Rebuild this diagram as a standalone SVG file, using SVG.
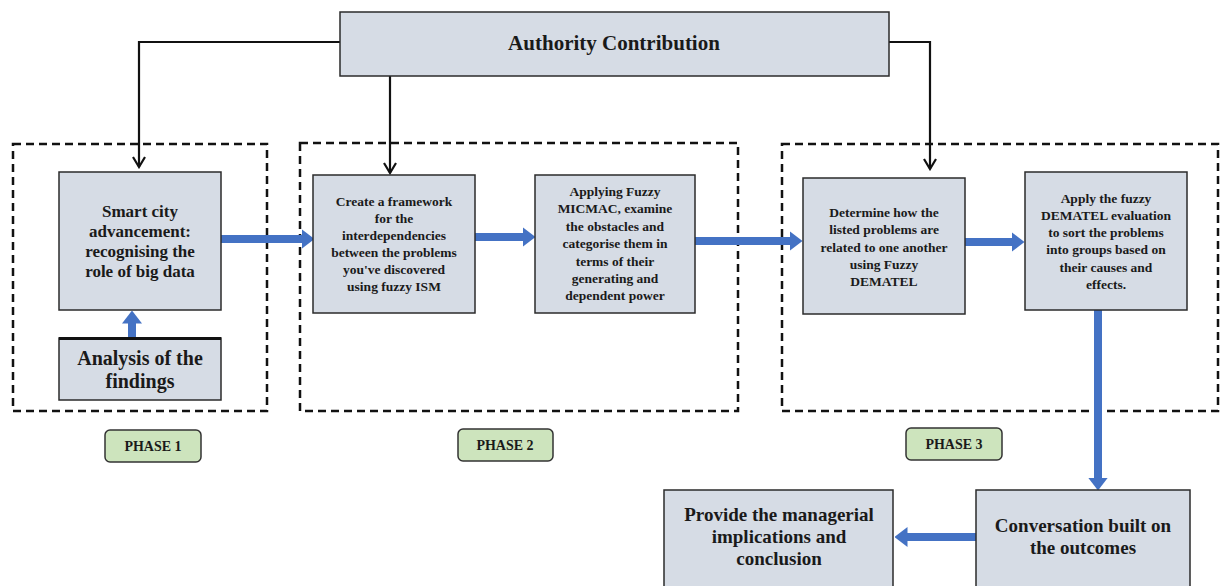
<svg xmlns="http://www.w3.org/2000/svg" width="1220" height="586" viewBox="0 0 1220 586">
<style>
.node{fill:#d6dce5;stroke:#2b2b2b;stroke-width:1.5}
.phase{fill:none;stroke:#111;stroke-width:2.5;stroke-dasharray:8 5}
.plabel{fill:#cde4bd;stroke:#333;stroke-width:1.5}
.t{font-family:"Liberation Serif","Times New Roman",serif;font-weight:bold;fill:#1a1a1a;text-anchor:middle}
.blk{fill:none;stroke:#111;stroke-width:2.2;marker-end:url(#open)}
.blue{fill:none;stroke:#4472c4;stroke-width:8;marker-end:url(#bhead)}
</style>
<defs>
<marker id="open" markerUnits="userSpaceOnUse" viewBox="0 0 14 14" markerWidth="14" markerHeight="14" refX="12" refY="7" orient="auto">
<path d="M2,1 L12,7 L2,13" fill="none" stroke="#111" stroke-width="2.2"/>
</marker>
<marker id="bhead" markerUnits="userSpaceOnUse" viewBox="0 0 13 20" markerWidth="13" markerHeight="20" refX="0.5" refY="10" orient="auto">
<path d="M0,0 L13,10 L0,20 z" fill="#4472c4"/>
</marker>
</defs>

<g id="phase-boxes">
<rect class="phase" x="13" y="144" width="254" height="267"/>
<rect class="phase" x="300" y="143" width="438" height="268"/>
<rect class="phase" x="782" y="144" width="436" height="267"/>
</g>

<g id="connectors">
<path class="blk" d="M340,42 H139 V167"/>
<path class="blk" d="M390,76 V173"/>
<path class="blk" d="M889,42 H930 V169"/>
<path class="blue" d="M221,239 H302"/>
<path class="blue" d="M475,237 H523"/>
<path class="blue" d="M695,241 H790"/>
<path class="blue" d="M965,242 H1012"/>
<path class="blue" d="M1098,310 V478"/>
<path class="blue" d="M976,537 H907"/>
<path class="blue" d="M132,338 V323"/>
</g>

<g id="authority">
<rect class="node" x="340" y="12" width="549" height="64"/>
<text class="t" x="614" y="50" font-size="21">Authority Contribution</text>
</g>

<g id="smart-city">
<rect class="node" x="59" y="172" width="162" height="138"/>
<text class="t" font-size="17"><tspan x="140" y="217">Smart city</tspan><tspan x="140" y="237">advancement:</tspan><tspan x="140" y="257">recognising the</tspan><tspan x="140" y="277">role of big data</tspan></text>
</g>

<g id="analysis">
<rect class="node" x="59" y="338" width="162" height="62"/>
<line x1="59" y1="338.5" x2="221" y2="338.5" stroke="#111" stroke-width="3"/>
<text class="t" font-size="20"><tspan x="140" y="365">Analysis of the</tspan><tspan x="140" y="388">findings</tspan></text>
</g>

<g id="create-framework">
<rect class="node" x="313" y="175" width="162" height="138"/>
<text class="t" font-size="13.5"><tspan x="394" y="206">Create a framework</tspan><tspan x="394" y="223">for the</tspan><tspan x="394" y="240">interdependencies</tspan><tspan x="394" y="257">between the problems</tspan><tspan x="394" y="274">you've discovered</tspan><tspan x="394" y="291">using fuzzy ISM</tspan></text>
</g>

<g id="micmac">
<rect class="node" x="535" y="175" width="160" height="138"/>
<text class="t" font-size="13.5"><tspan x="615" y="196">Applying Fuzzy</tspan><tspan x="615" y="213">MICMAC, examine</tspan><tspan x="615" y="231">the obstacles and</tspan><tspan x="615" y="248">categorise them in</tspan><tspan x="615" y="266">terms of their</tspan><tspan x="615" y="283">generating and</tspan><tspan x="615" y="300">dependent power</tspan></text>
</g>

<g id="determine">
<rect class="node" x="803" y="178" width="162" height="136"/>
<text class="t" font-size="13.5"><tspan x="884" y="217">Determine how the</tspan><tspan x="884" y="234">listed problems are</tspan><tspan x="884" y="252">related to one another</tspan><tspan x="884" y="269">using Fuzzy</tspan><tspan x="884" y="286">DEMATEL</tspan></text>
</g>

<g id="apply-dematel">
<rect class="node" x="1025" y="172" width="162" height="138"/>
<text class="t" font-size="13.5"><tspan x="1106" y="203">Apply the fuzzy</tspan><tspan x="1106" y="220">DEMATEL evaluation</tspan><tspan x="1106" y="237">to sort the problems</tspan><tspan x="1106" y="254">into groups based on</tspan><tspan x="1106" y="272">their causes and</tspan><tspan x="1106" y="289">effects.</tspan></text>
</g>

<g id="conversation">
<rect class="node" x="976" y="490" width="214" height="100"/>
<text class="t" font-size="19"><tspan x="1083" y="532">Conversation built on</tspan><tspan x="1083" y="554">the outcomes</tspan></text>
</g>

<g id="provide">
<rect class="node" x="664" y="490" width="229" height="100"/>
<text class="t" font-size="19"><tspan x="779" y="521">Provide the managerial</tspan><tspan x="779" y="543">implications and</tspan><tspan x="779" y="565">conclusion</tspan></text>
</g>

<g id="phase1-label">
<rect class="plabel" x="105" y="430" width="96" height="32" rx="5"/>
<text class="t" x="153" y="451" font-size="14">PHASE 1</text>
</g>
<g id="phase2-label">
<rect class="plabel" x="458" y="429" width="95" height="32" rx="5"/>
<text class="t" x="505" y="450" font-size="14">PHASE 2</text>
</g>
<g id="phase3-label">
<rect class="plabel" x="906" y="428" width="96" height="32" rx="5"/>
<text class="t" x="954" y="449" font-size="14">PHASE 3</text>
</g>
</svg>
